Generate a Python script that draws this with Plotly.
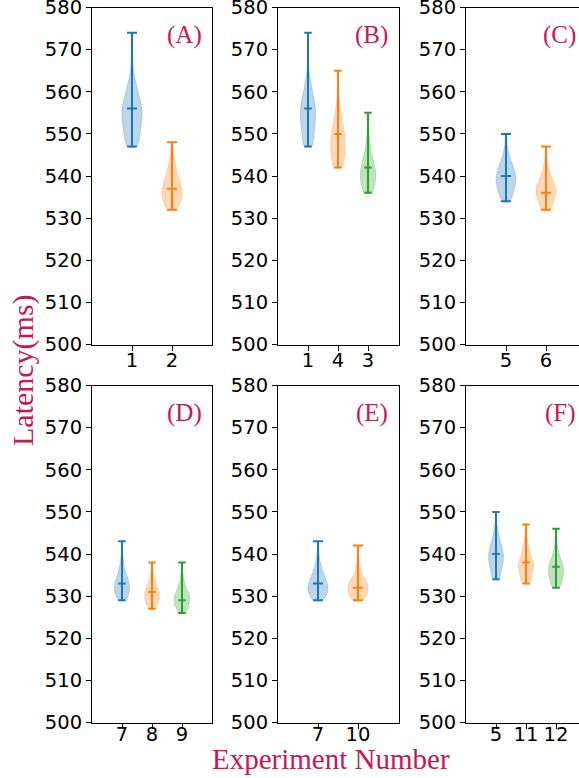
import plotly.graph_objects as go

# ---------------- data ----------------
panel_names = ["(A)", "(B)", "(C)", "(D)", "(E)", "(F)"]
panel_labels = [["1", "2"], ["1", "4", "3"], ["5", "6"],
                ["7", "8", "9"], ["7", "10"], ["5", "11", "12"]]
# min / median / max for each violin
v_min = [[547, 532], [547, 542, 536], [534, 532],
         [529, 527, 526], [529, 529], [534, 533, 532]]
v_med = [[556, 537], [556, 550, 542], [540, 536],
         [533, 531, 529], [533, 532], [540, 538, 537]]
v_max = [[574, 548], [574, 565, 555], [550, 547],
         [543, 538, 538], [543, 542], [550, 547, 546]]
# relative violin width at 7 evenly spaced levels from min to max
v_prof = [
    [[0.45, 0.9, 1.0, 0.55, 0.15, 0.08, 0.03], [0.4, 0.95, 0.95, 0.6, 0.35, 0.15, 0.04]],
    [[0.45, 0.9, 1.0, 0.55, 0.15, 0.08, 0.03], [0.5, 0.95, 0.9, 0.5, 0.2, 0.08, 0.03],
     [0.5, 1.0, 0.9, 0.45, 0.2, 0.08, 0.03]],
    [[0.35, 0.8, 1.0, 0.75, 0.35, 0.12, 0.03], [0.35, 0.85, 1.0, 0.6, 0.25, 0.1, 0.03]],
    [[0.45, 1.0, 0.85, 0.45, 0.2, 0.08, 0.03], [0.35, 0.85, 1.0, 0.6, 0.3, 0.12, 0.03],
     [0.35, 0.95, 1.0, 0.55, 0.25, 0.1, 0.03]],
    [[0.45, 1.0, 0.85, 0.45, 0.2, 0.08, 0.03], [0.5, 1.0, 0.85, 0.35, 0.15, 0.06, 0.03]],
    [[0.35, 0.8, 1.0, 0.75, 0.35, 0.12, 0.03], [0.4, 0.85, 1.0, 0.6, 0.3, 0.12, 0.03],
     [0.4, 0.9, 1.0, 0.6, 0.25, 0.1, 0.03]],
]
y_ticks = [500, 510, 520, 530, 540, 550, 560, 570, 580]

colors = ["#1f77b4", "#ff7f0e", "#2ca02c"]
fills = ["rgba(31,119,180,0.3)", "rgba(255,127,14,0.3)", "rgba(44,160,44,0.3)"]
accent = "#C8165A"

W, H = 579, 778
col_px = [(92, 212), (278, 399), (466, 579)]
row_px = [(7.5, 344.5), (385.5, 722.5)]
row_standoff = [-7, -11]
px_per_unit = 120.0


def fx(px):
    return px / W


def fy(py):
    return min(1.0, max(0.0, 1 - py / H))


fig = go.Figure()

for p in range(6):
    r, c = divmod(p, 3)
    ax = p + 1
    xa = "x" if ax == 1 else f"x{ax}"
    ya = "y" if ax == 1 else f"y{ax}"
    n = len(panel_labels[p])
    xmax = n + 1
    for i in range(n):
        pos = i + 1
        lo, hi, md = v_min[p][i], v_max[p][i], v_med[p][i]
        prof = v_prof[p][i]
        k = len(prof)
        levels = [lo + (hi - lo) * j / (k - 1) for j in range(k)]
        xs = [pos + 0.25 * w for w in prof] + [pos - 0.25 * w for w in reversed(prof)]
        ys = levels + list(reversed(levels))
        xs.append(xs[0])
        ys.append(ys[0])
        fig.add_trace(go.Scatter(x=xs, y=ys, mode="lines", fill="toself",
                                 fillcolor=fills[i], line=dict(color=fills[i], width=0.8, shape="spline", smoothing=0.8),
                                 xaxis=xa, yaxis=ya, hoverinfo="skip", showlegend=False))
        cw = 0.125
        lx = [pos, pos, None, pos - cw, pos + cw, None, pos - cw, pos + cw, None, pos - cw, pos + cw]
        ly = [lo, hi, None, lo, lo, None, hi, hi, None, md, md]
        fig.add_trace(go.Scatter(x=lx, y=ly, mode="lines", line=dict(color=colors[i], width=2),
                                 xaxis=xa, yaxis=ya, hoverinfo="skip", showlegend=False))

    x0, x1 = col_px[c]
    t0, t1 = row_px[r]
    rng_hi = (x1 - x0) / (px_per_unit / xmax)
    common = dict(showline=True, linecolor="black", linewidth=1, ticks="outside", ticklen=5,
                  tickcolor="black", tickwidth=1, showgrid=False, zeroline=False, automargin=False,
                  ticklabeloverflow="allow",
                  tickfont=dict(family="DejaVu Sans", size=19.5, color="black"))
    fig.layout[f"xaxis{'' if ax == 1 else ax}"] = dict(
        domain=[fx(x0), fx(x1)], range=[0, rng_hi], anchor=ya, mirror=True,
        ticklabelstandoff=row_standoff[r],
        tickvals=list(range(1, n + 1)), ticktext=panel_labels[p], **common)
    fig.layout[f"yaxis{'' if ax == 1 else ax}"] = dict(
        domain=[fy(t1), fy(t0)], range=[500, 580], anchor=xa, mirror=(c != 2),
        tickvals=y_ticks, **common)
    fig.add_annotation(x=fx(x0 + 112), y=fy(t0 + 27.5),
                       xref="paper", yref="paper", xanchor="right", yanchor="middle",
                       text=panel_names[p], showarrow=False,
                       font=dict(family="Liberation Serif", size=25, color=accent))

fig.add_annotation(x=fx(331), y=fy(758.5), xref="paper", yref="paper",
                   text="Experiment Number", showarrow=False, xanchor="center", yanchor="middle",
                   font=dict(family="Liberation Serif", size=29, color=accent))
fig.add_annotation(x=fx(23), y=fy(370), xref="paper", yref="paper",
                   text="Latency(ms)", showarrow=False, textangle=-90, xanchor="center", yanchor="middle",
                   font=dict(family="Liberation Serif", size=30, color=accent))

fig.update_layout(width=W, height=H, margin=dict(l=0, r=0, t=0, b=0, autoexpand=False),
                  plot_bgcolor="white", paper_bgcolor="white", showlegend=False)
fig.write_html("out.html", config={"displayModeBar": False},
               post_script="document.body.style.margin='0';")
